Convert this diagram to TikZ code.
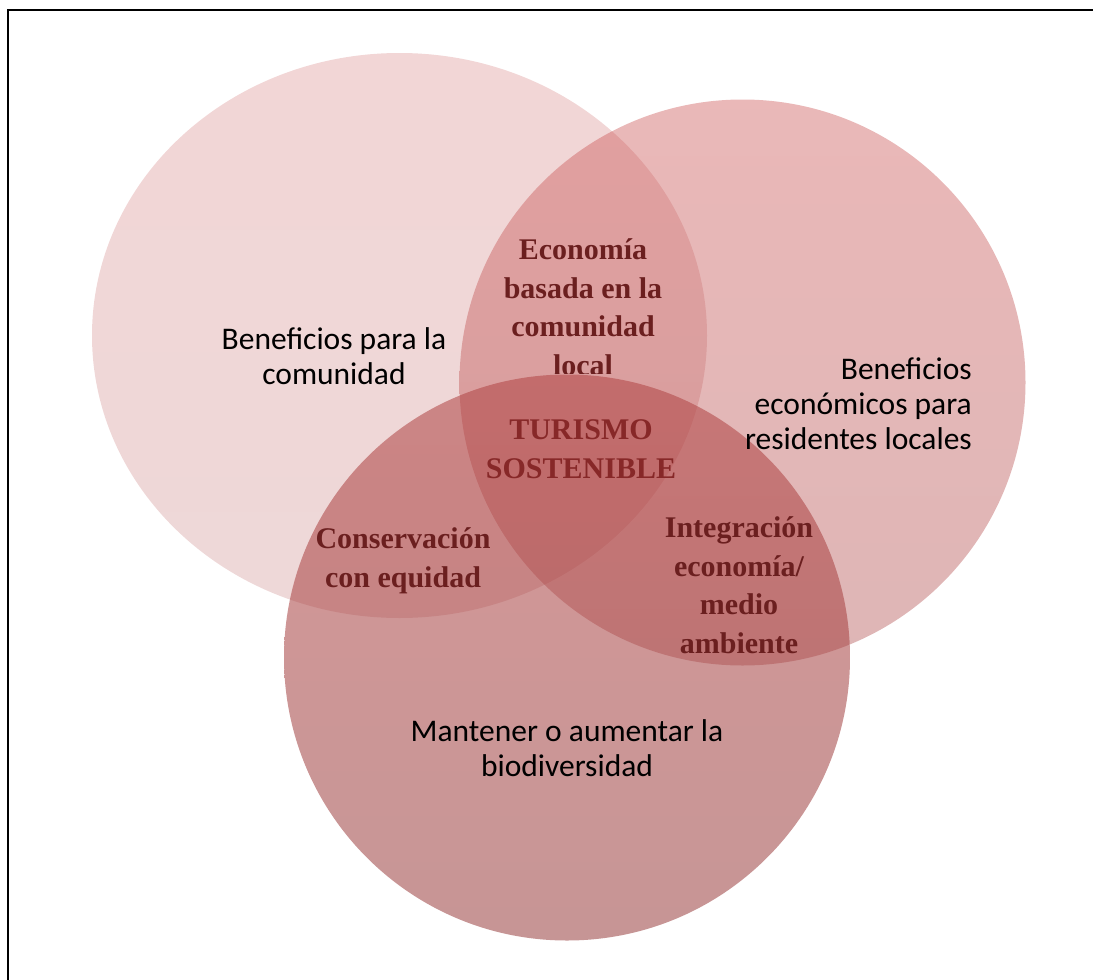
\documentclass[tikz,border=0pt]{standalone}
\usepackage{fontspec}
\setmainfont{Carlito}
\newfontfamily\serifbold{Liberation Serif}
\usetikzlibrary{positioning,shapes.geometric}
\definecolor{rosaTop}{RGB}{203,91,91}
\definecolor{rosaBot}{RGB}{185,99,99}
\definecolor{rojoTop}{RGB}{202,77,77}
\definecolor{rojoBot}{RGB}{172,72,72}
\definecolor{granTop}{RGB}{177,66,66}
\definecolor{granBot}{RGB}{152,62,62}
\definecolor{lblred}{RGB}{107,31,31}
\definecolor{lblmid}{RGB}{135,40,40}
\tikzset{
    venn/.style={circle, minimum size=566pt, inner sep=0pt, draw=none},
    venn_wide/.style={ellipse, minimum width=615pt, minimum height=565pt, inner sep=0pt, draw=none},
    plain_lbl/.style={font=\fontsize{31.5}{35}\selectfont, text=black, align=center, inner sep=0pt},
    bold_lbl/.style={font=\serifbold\bfseries\fontsize{30}{38.5}\selectfont, text=lblred, align=center, inner sep=0pt},
}
\begin{document}
\begin{tikzpicture}
        [x=1pt, y=-1pt]
        \useasboundingbox (0,0) rectangle (1093,980);

        % Frame
        \draw[line width=1.6pt] (8,980) -- (8,10) -- (1093,10);

        % Circles of the Venn diagram
        \node[venn_wide, top color=rosaTop, bottom color=rosaBot, fill opacity=0.25] (com) at (399.5,335.5) {};
        \node[venn, top color=rojoTop, bottom color=rojoBot, fill opacity=0.4] (eco) at (742.5,382.5) {};
        \node[venn, top color=granTop, bottom color=granBot, fill opacity=0.55] (bio) at (567,657.5) {};

        % Labels of the circles
        \node[plain_lbl] (lcom) at (334,356) {Beneficios para la\\comunidad};
        \node[plain_lbl, align=right, anchor=east] (leco) at (972,404) {Beneficios\\económicos para\\residentes locales};
        \node[plain_lbl] (lbio) at (567,748) {Mantener o aumentar la\\biodiversidad};

        % Labels of the overlaps
        \begin{scope}
            \clip (440,200) rectangle (720,373);
            \node[bold_lbl] (lcomeco) at (583,307) {Economía\\basada en la\\comunidad\\local};
        \end{scope}
        \node[bold_lbl, text=lblmid] (lcentro) at (581,449) {TURISMO\\SOSTENIBLE};
        \node[bold_lbl] (lcombio) at (403,561) {Conservación\\con equidad};
        \node[bold_lbl] (lecobio) at (739,585) {Integración\\economía/\\medio\\ambiente};

    \end{tikzpicture}
\end{document}
